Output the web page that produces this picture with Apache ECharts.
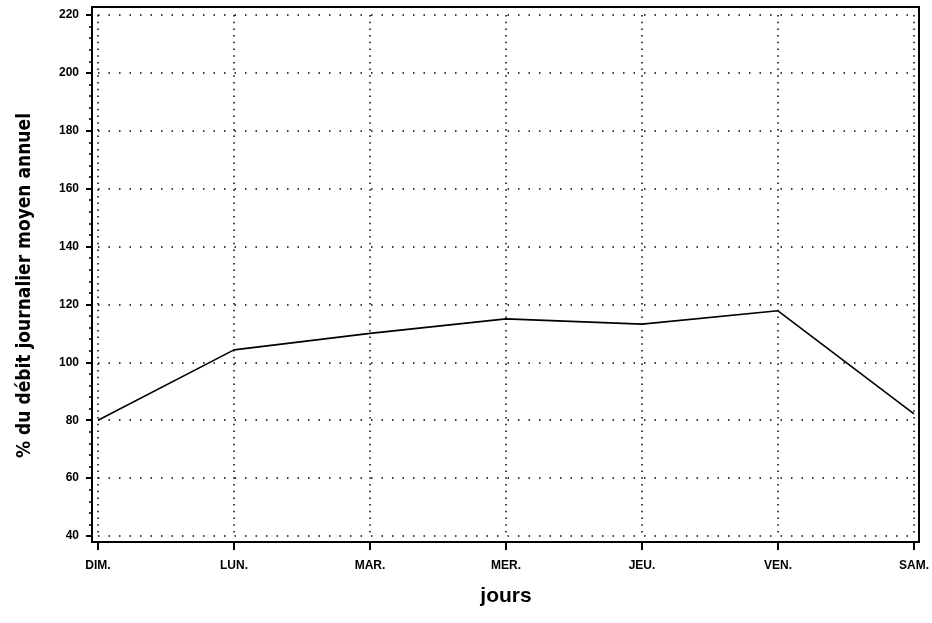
<!DOCTYPE html>
<html>
<head>
<meta charset="utf-8">
<script src="https://cdn.jsdelivr.net/npm/echarts@6/dist/echarts.min.js"></script>
<style>html,body{margin:0;padding:0;background:#fff}#c{width:932px;height:623px}</style>
</head>
<body>
<div id="c"></div>
<script>
const categories = ['DIM.', 'LUN.', 'MAR.', 'MER.', 'JEU.', 'VEN.', 'SAM.'];
const values = [80, 104.3, 110, 115, 113.2, 117.8, 82.2];
const yTicks = {min: 40, max: 220, interval: 20};
const yTitle = '% du débit journalier moyen annuel';
const xTitle = 'jours';

const chart = echarts.init(document.getElementById('c'), null, {renderer: 'canvas'});
chart.setOption({
  backgroundColor: '#fff',
  animation: false,
  grid: {left: 98, right: 18, top: 15, bottom: 87, containLabel: false},
  xAxis: {
    type: 'category',
    data: categories,
    boundaryGap: false,
    offset: 6,
    axisLine: {lineStyle: {color: '#000', width: 2}},
    axisTick: {show: true, length: 8, inside: false, lineStyle: {color: '#000', width: 2}},
    axisLabel: {color: '#000', fontFamily: 'Liberation Sans, Arial, sans-serif', fontWeight: 'bold', fontSize: 12, margin: 18, interval: 0},
    splitLine: {show: true, lineStyle: {color: '#000', width: 1.5, type: [1.5, 5.2]}},
    name: xTitle,
    nameLocation: 'middle',
    nameGap: 44,
    nameTextStyle: {color: '#000', fontFamily: 'Liberation Sans, Arial, sans-serif', fontWeight: 'bold', fontSize: 21}
  },
  yAxis: {
    type: 'value',
    min: yTicks.min, max: yTicks.max, interval: yTicks.interval,
    offset: 6,
    axisLine: {show: true, lineStyle: {color: '#000', width: 2}},
    axisTick: {show: true, length: 6, lineStyle: {color: '#000', width: 2}},
    minorTick: {show: true, splitNumber: 5, length: 3, lineStyle: {color: '#000', width: 1.5}},
    axisLabel: {color: '#000', fontFamily: 'Liberation Sans, Arial, sans-serif', fontWeight: 'bold', fontSize: 12, margin: 13},
    splitLine: {show: true, lineStyle: {color: '#000', width: 1.5, type: [1.5, 9]}},
    name: yTitle,
    nameLocation: 'middle',
    nameRotate: 90,
    nameGap: 57,
    nameTextStyle: {color: '#000', fontFamily: 'DejaVu Sans Condensed, Liberation Sans, Arial, sans-serif', fontWeight: 'bold', fontSize: 19, padding: [0, 20, 0, 0]}
  },
  graphic: [{
    type: 'rect',
    shape: {x: 92, y: 7, width: 827, height: 535},
    style: {fill: 'none', stroke: '#000', lineWidth: 2},
    silent: true,
    z: 10
  }],
  series: [{
    type: 'line',
    data: values,
    symbol: 'none',
    lineStyle: {color: '#000', width: 1.6},
    z: 5
  }]
});
</script>
</body>
</html>
